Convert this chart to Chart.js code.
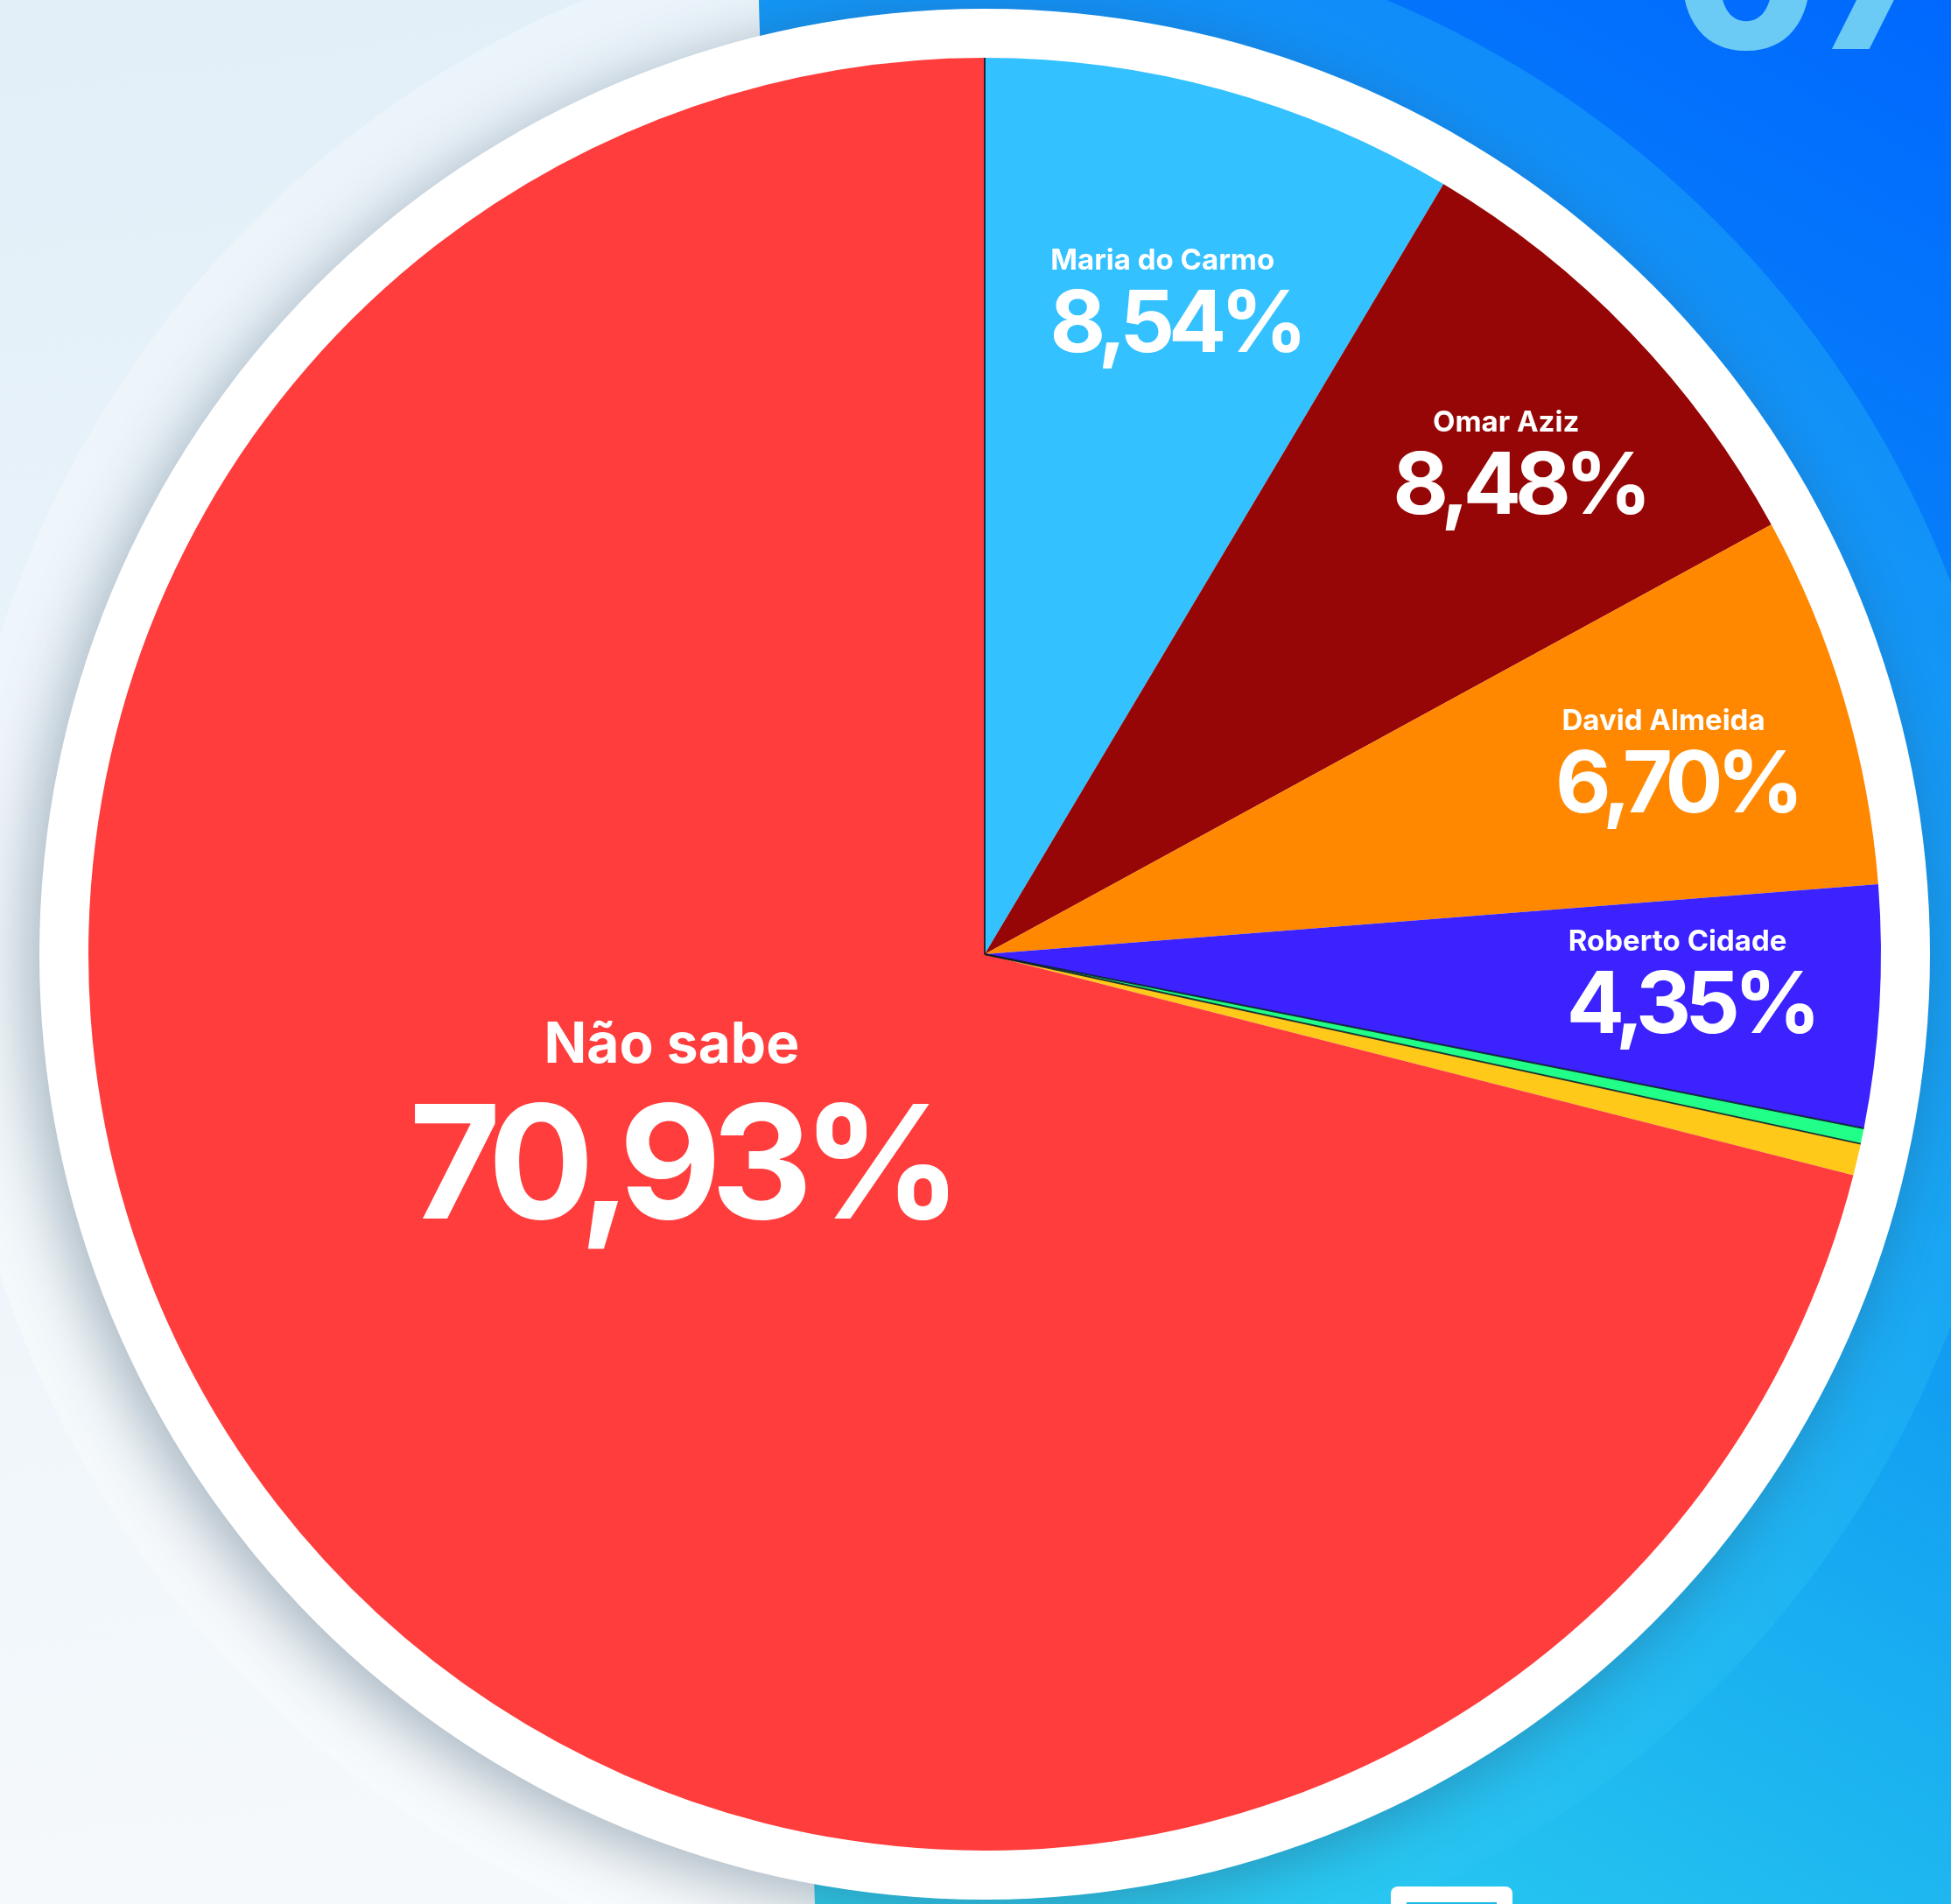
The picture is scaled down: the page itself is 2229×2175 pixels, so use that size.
<!DOCTYPE html>
<html>
<head>
<meta charset="utf-8">
<script src="https://cdn.jsdelivr.net/npm/chart.js@4.4.0/dist/chart.umd.min.js"></script>
<style>
  html, body { margin: 0; padding: 0; background: #eef5fa; overflow: hidden; }
  canvas { display: block; }
</style>
</head>
<body>
<canvas id="pizza" width="2229" height="2175"></canvas>
<script>
// dados da pesquisa (ordem horária a partir do topo)
var candidatos = ["Maria do Carmo", "Omar Aziz", "David Almeida", "Roberto Cidade", "Outros", "Brancos e nulos", "Não sabe"];
var percentuais = [8.54, 8.48, 6.70, 4.35, 0.28, 0.57, 70.93];
var cores = ["#33C1FF", "#960606", "#FF8800", "#3B22FF", "#22FF88", "#FFC91A", "#FF3D3D"];

// fundo: painel azul, halo e anel branco com sombra
var fundo = {
  id: 'fundo',
  beforeDraw: function(chart) {
    var ctx = chart.ctx, W = chart.width, H = chart.height;
    var arc = chart.getDatasetMeta(0).data[0];
    var cx = arc.x, cy = arc.y, r = arc.outerRadius;
    ctx.save();

    var g = ctx.createLinearGradient(0, 0, 300, H);
    g.addColorStop(0, '#E2EFF8');
    g.addColorStop(1, '#F5F9FC');
    ctx.fillStyle = g;
    ctx.fillRect(0, 0, W, H);

    // halo claro do lado esquerdo
    ctx.save();
    ctx.beginPath();
    ctx.moveTo(0, 0); ctx.lineTo(867, 0); ctx.lineTo(931, H); ctx.lineTo(0, H); ctx.closePath();
    ctx.clip();
    ctx.beginPath();
    ctx.arc(cx, cy, r * 1.155, 0, 2 * Math.PI);
    ctx.fillStyle = 'rgba(255,255,255,0.3)';
    ctx.fill();
    ctx.restore();

    // painel azul
    ctx.save();
    ctx.beginPath();
    ctx.moveTo(867, 0); ctx.lineTo(W, 0); ctx.lineTo(W, H); ctx.lineTo(931, H); ctx.closePath();
    var gp = ctx.createLinearGradient(W, 0, 1000, H);
    gp.addColorStop(0, '#0068FF');
    gp.addColorStop(0.45, '#0C92F3');
    gp.addColorStop(1, '#2CD4EE');
    ctx.fillStyle = gp;
    ctx.fill();
    ctx.clip();
    ctx.beginPath();
    ctx.arc(cx, cy, r * 1.155, 0, 2 * Math.PI);
    ctx.fillStyle = 'rgba(45,200,245,0.30)';
    ctx.fill();

    // texto grande cortado no topo
    ctx.fillStyle = '#6CCBF4';
    ctx.font = '800 240px Inter';
    ctx.textAlign = 'left';
    ctx.textBaseline = 'alphabetic';
    ctx.fillText('07', 1912, 56);

    // ícone branco no rodapé
    ctx.fillStyle = '#ffffff';
    ctx.beginPath();
    ctx.roundRect(1589, 2155, 139, 60, 8);
    ctx.fill();
    ctx.fillStyle = '#1CB6E8';
    ctx.fillRect(1607, 2173, 103, 40);
    ctx.restore();

    // anel branco
    ctx.shadowColor = 'rgba(40,70,95,0.4)';
    ctx.shadowBlur = 70;
    ctx.shadowOffsetX = -12;
    ctx.shadowOffsetY = 14;
    ctx.beginPath();
    ctx.arc(cx, cy, r + 56, 0, 2 * Math.PI);
    ctx.fillStyle = '#ffffff';
    ctx.fill();
    ctx.restore();
  }
};

// rótulos dentro das fatias
var rotulos = {
  id: 'rotulos',
  afterDatasetsDraw: function(chart, args, opts) {
    var ctx = chart.ctx;
    var meta = chart.getDatasetMeta(0);
    ctx.save();

    // linhas escuras entre algumas fatias
    ctx.strokeStyle = 'rgba(10,25,40,0.85)';
    ctx.lineWidth = 2;
    [[0, 'startAngle'], [3, 'endAngle'], [4, 'endAngle']].forEach(function(l) {
      var a = meta.data[l[0]];
      var ang = a[l[1]];
      ctx.beginPath();
      ctx.moveTo(a.x, a.y);
      ctx.lineTo(a.x + Math.cos(ang) * a.outerRadius, a.y + Math.sin(ang) * a.outerRadius);
      ctx.stroke();
    });

    ctx.fillStyle = '#ffffff';
    ctx.textAlign = 'center';
    ctx.textBaseline = 'alphabetic';
    meta.data.forEach(function(arc, i) {
      var pos = opts.pos[i];
      if (!pos) return;
      var v = chart.data.datasets[0].data[i];
      var big = v > 50;
      var mid = (arc.startAngle + arc.endAngle) / 2 + pos[1] * Math.PI / 180;
      var ax = arc.x + Math.cos(mid) * arc.outerRadius * pos[0];
      var ay = arc.y + Math.sin(mid) * arc.outerRadius * pos[0];
      var txt = v.toFixed(2).replace('.', ',') + '%';
      if (big) {
        ctx.letterSpacing = '0px';
        ctx.font = '700 64px Inter';
        ctx.fillText(chart.data.labels[i], ax - 2, ay - 89);
        ctx.letterSpacing = '-12px';
        ctx.font = '700 180px Inter';
        ctx.fillText(txt, ax + 8, ay + 89);
      } else {
        ctx.letterSpacing = '0px';
        ctx.font = '700 33px Inter';
        ctx.fillText(chart.data.labels[i], ax - 6, ay - 47);
        ctx.letterSpacing = '-7px';
        ctx.font = '700 98px Inter';
        ctx.fillText(txt, ax + 9, ay + 47);
      }
    });
    ctx.restore();
  }
};

new Chart(document.getElementById('pizza'), {
  type: 'pie',
  data: {
    labels: candidatos,
    datasets: [{
      data: percentuais,
      backgroundColor: cores,
      borderWidth: 0
    }]
  },
  options: {
    responsive: false,
    animation: false,
    devicePixelRatio: 1,
    layout: { padding: { left: 101, top: 66, right: 80, bottom: 61 } },
    plugins: {
      legend: { display: false },
      tooltip: { enabled: false },
      rotulos: {
        // [fração do raio, ajuste de ângulo em graus]
        pos: [[0.746, 0.5], [0.796, 1.5], [0.79, 1.6], [0.78, -0.3], null, null, [0.405, 6.9]]
      }
    }
  },
  plugins: [fundo, rotulos]
});
</script>
</body>
</html>
